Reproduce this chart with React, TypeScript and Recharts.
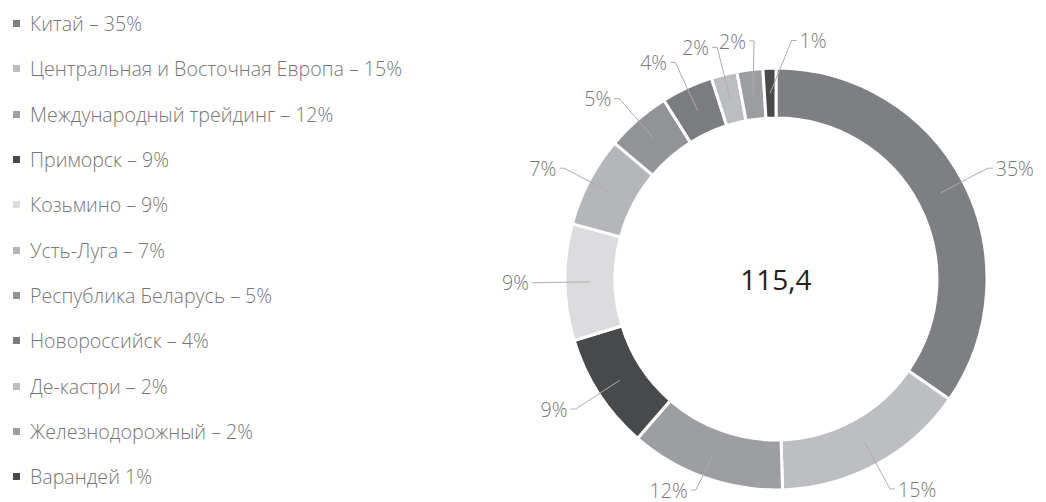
import React from 'react';
import { PieChart, Pie, Cell } from 'recharts';

const categories = [
  'Китай',
  'Центральная и Восточная Европа',
  'Международный трейдинг',
  'Приморск',
  'Козьмино',
  'Усть-Луга',
  'Республика Беларусь',
  'Новороссийск',
  'Де-кастри',
  'Железнодорожный',
  'Варандей',
];
const shares = [35, 15, 12, 9, 9, 7, 5, 4, 2, 2, 1];
const legendLabels = [
  'Китай – 35%',
  'Центральная и Восточная Европа – 15%',
  'Международный трейдинг – 12%',
  'Приморск – 9%',
  'Козьмино – 9%',
  'Усть-Луга – 7%',
  'Республика Беларусь – 5%',
  'Новороссийск – 4%',
  'Де-кастри – 2%',
  'Железнодорожный – 2%',
  'Варандей 1%',
];
const colors = [
  '#7e7f83', '#bdbec1', '#9d9ea2', '#48494b', '#dcdcde', '#b5b6b9',
  '#929397', '#7b7c80', '#bcbdc0', '#9c9da1', '#48494b',
];
const totalLabel = '115,4';

const data = categories.map((name, i) => ({ name, value: shares[i], legend: legendLabels[i] }));

const CX = 776;
const CY = 279;

// spread small labels apart so they don't collide (angles clockwise from top)
const total = shares.reduce((a, b) => a + b, 0);
let acc = 0;
const mids = shares.map((v) => {
  const m = ((acc + v / 2) / total) * 360;
  acc += v;
  return m;
});
const spread = [...mids];
for (let i = 1; i < spread.length; i++) {
  if (spread[i] - spread[i - 1] < 9) spread[i] = spread[i - 1] + 9;
}
const nudges = spread.map((a, i) => a - mids[i]);

const RAD = Math.PI / 180;
const polar = (cx: number, cy: number, r: number, angle: number) => ({
  x: cx + r * Math.cos(-angle * RAD),
  y: cy + r * Math.sin(-angle * RAD),
});

const renderLabel = (props: any) => {
  const { cx, cy, midAngle, innerRadius, outerRadius, index, value } = props;
  const ang = midAngle - nudges[index];
  const s = polar(cx, cy, (innerRadius + outerRadius) / 2, midAngle);
  const e = polar(cx, cy, outerRadius + 28, ang);
  e.y = Math.max(36, Math.min(490, e.y));
  const right = Math.cos(-ang * RAD) >= 0;
  const dir = right ? 1 : -1;
  return (
    <g key={`lbl-${index}`}>
      <polyline
        points={`${s.x},${s.y} ${e.x},${e.y} ${e.x + dir * 5},${e.y}`}
        fill="none"
        stroke="#adadad"
        strokeWidth={1}
      />
      <text
        x={e.x + dir * 8}
        y={e.y}
        textAnchor={right ? 'start' : 'end'}
        dominantBaseline="central"
        fill="#767676"
        fontSize={19.6}
        fontWeight={300}
        fontFamily="'Open Sans', sans-serif"
      >
        {`${value}%`}
      </text>
    </g>
  );
};

function LegendList() {
  return (
    <div
      style={{
        position: 'absolute',
        left: 13,
        top: 1,
        fontFamily: "'Open Sans', sans-serif",
        fontSize: 19.6,
        fontWeight: 300,
        color: '#767676',
      }}
    >
      {data.map((d, i) => (
        <div key={d.name} style={{ height: 45.3, display: 'flex', alignItems: 'center', whiteSpace: 'nowrap' }}>
          <span style={{ width: 7, height: 7, background: colors[i], marginRight: 10, display: 'inline-block' }} />
          <span>{d.legend}</span>
        </div>
      ))}
    </div>
  );
}

export default function App() {
  return (
    <div style={{ position: 'absolute', left: 0, top: 0, width: 1046, height: 502, background: '#fff' }}>
      <PieChart width={1046} height={502} margin={{ top: 0, right: 0, bottom: 0, left: 0 }}>
        <Pie
          data={data}
          dataKey="value"
          nameKey="name"
          cx={CX}
          cy={CY}
          innerRadius={161}
          outerRadius={211}
          startAngle={90}
          endAngle={-270}
          stroke="#ffffff"
          strokeWidth={3}
          label={renderLabel}
          labelLine={false}
          isAnimationActive={false}
        >
          {data.map((d, i) => (
            <Cell key={d.name} fill={colors[i]} />
          ))}
        </Pie>
        <text
          x={CX}
          y={CY}
          textAnchor="middle"
          dominantBaseline="central"
          fill="#222222"
          fontSize={28}
          fontFamily="'Open Sans', sans-serif"
        >
          {totalLabel}
        </text>
      </PieChart>
      <LegendList />
    </div>
  );
}
